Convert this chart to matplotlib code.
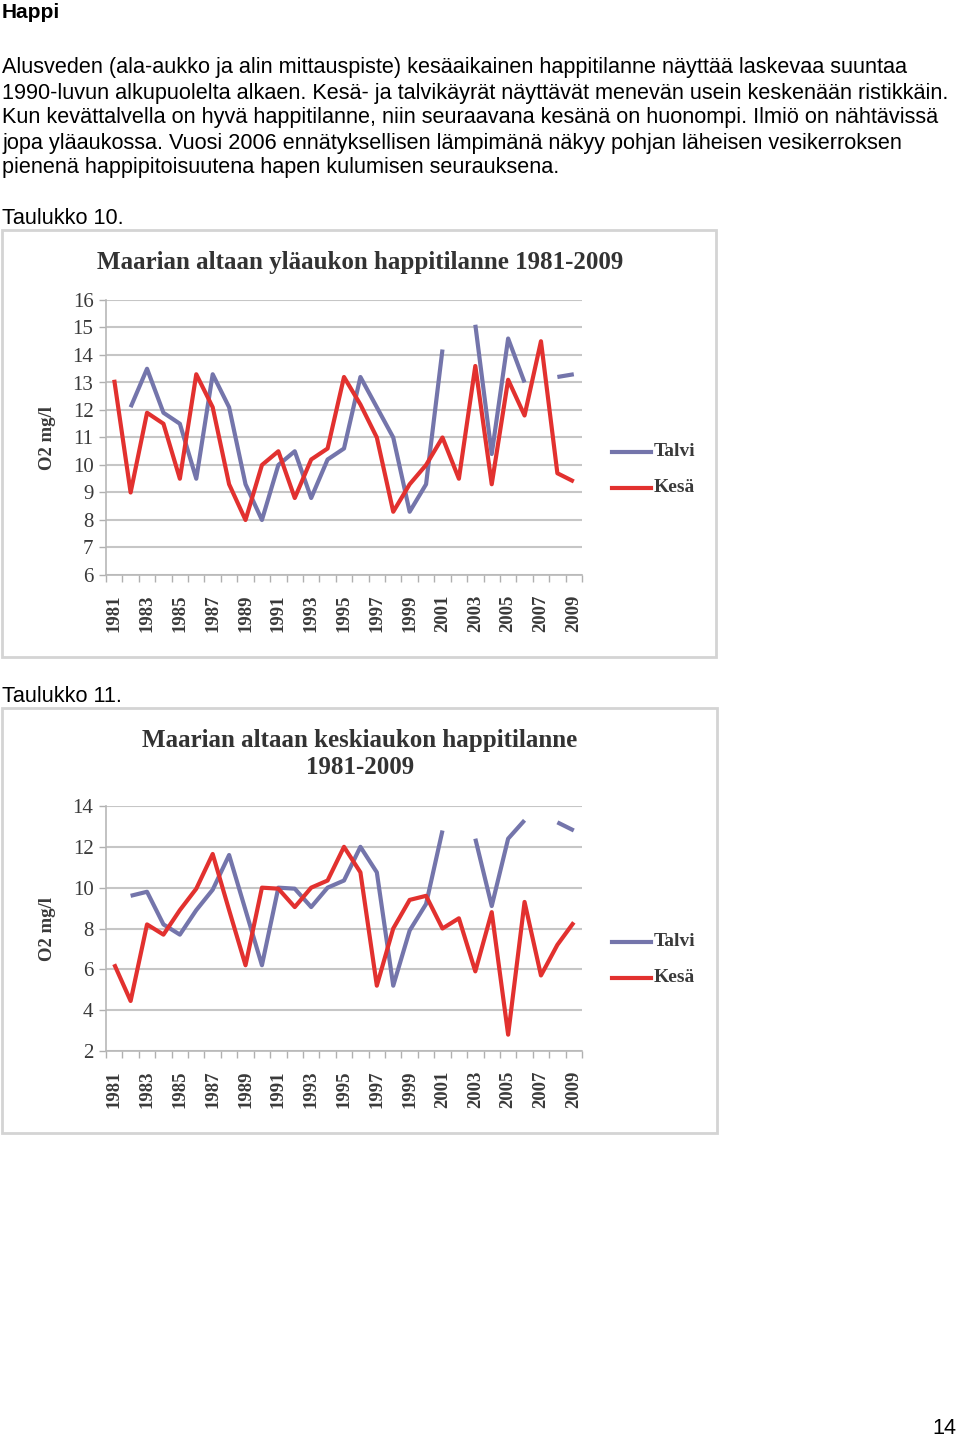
import matplotlib

matplotlib.use("Agg")
import matplotlib.pyplot as plt
import numpy as np
from matplotlib.patches import Rectangle

YEARS = list(range(1981, 2010))
nan = np.nan

YLA_TALVI = [nan, 12.1, 13.5, 11.9, 11.5, 9.5, 13.3, 12.1, 9.3, 8.0,
             10.0, 10.5, 8.8, 10.2, 10.6, 13.2, 12.1, 11.0, 8.3, 9.3,
             14.2, nan, 15.1, 10.4, 14.6, 13.0, nan, 13.2, 13.3]
YLA_KESA = [13.1, 9.0, 11.9, 11.5, 9.5, 13.3, 12.1, 9.3, 8.0, 10.0,
            10.5, 8.8, 10.2, 10.6, 13.2, 12.2, 11.0, 8.3, 9.3, 10.0,
            11.0, 9.5, 13.6, 9.3, 13.1, 11.8, 14.5, 9.7, 9.4]

KESKI_TALVI = [nan, 9.6, 9.8, 8.2, 7.7, 8.9, 9.9, 11.6, 8.9, 6.2,
               10.0, 9.95, 9.05, 10.0, 10.35, 12.0, 10.75, 5.2, 7.9, 9.2,
               12.8, nan, 12.4, 9.1, 12.4, 13.3, nan, 13.2, 12.8]
KESKI_KESA = [6.25, 4.45, 8.2, 7.7, 8.9, 9.95, 11.65, 8.9, 6.2, 10.0,
              9.95, 9.05, 10.0, 10.35, 12.0, 10.75, 5.2, 8.0, 9.4, 9.6,
              8.0, 8.5, 5.9, 8.8, 2.8, 9.3, 5.7, 7.2, 8.3]

YLA_TICKS = list(range(6, 17))
KESKI_TICKS = list(range(2, 15, 2))

BODY = [
    "Alusveden (ala-aukko ja alin mittauspiste) kesäaikainen happitilanne näyttää laskevaa suuntaa",
    "1990-luvun alkupuolelta alkaen. Kesä- ja talvikäyrät näyttävät menevän usein keskenään ristikkäin.",
    "Kun kevättalvella on hyvä happitilanne, niin seuraavana kesänä on huonompi. Ilmiö on nähtävissä",
    "jopa yläaukossa. Vuosi 2006 ennätyksellisen lämpimänä näkyy pohjan läheisen vesikerroksen",
    "pienenä happipitoisuutena hapen kulumisen seurauksena.",
]

BLUE = "#7475ab"
RED = "#e2312f"
INK = "#3a3a3a"
GRID = "#c6c6c6"
SERIF = "Liberation Serif"
SANS = "Liberation Sans"

W, H = 960, 1436
fig = plt.figure(figsize=(W / 100, H / 100), dpi=100)
fig.patch.set_facecolor("white")


def px(x, y):
    return x / W, 1 - y / H


def text(x, y, s, **kw):
    fx, fy = px(x, y)
    fig.text(fx, fy, s, **kw)


# page text
text(2, 12, "Happi", fontsize=15, fontweight="bold", family=SANS, va="center")
for i, line in enumerate(BODY):
    text(2, 68 + 25 * i, line, fontsize=15.6, family=SANS, va="center")
text(2, 218, "Taulukko 10.", fontsize=15.6, family=SANS, va="center")
text(2, 696, "Taulukko 11.", fontsize=15.6, family=SANS, va="center")
text(956, 1428, "14", fontsize=15.6, family=SANS, va="center", ha="right")


def chart(box, plot, titles, talvi, kesa, yticks, legend_y):
    bx0, by0, bx1, by1 = box
    fx, fy = px(bx0, by1)
    fig.patches.append(Rectangle((fx, fy), (bx1 - bx0) / W, (by1 - by0) / H,
                                 transform=fig.transFigure, fill=False,
                                 edgecolor="#d4d4d4", linewidth=2))
    x0, y0, x1, y1 = plot
    lx, ly = px(x0, y1)
    ax = fig.add_axes([lx, ly, (x1 - x0) / W, (y1 - y0) / H])
    ax.plot(YEARS, talvi, color=BLUE, linewidth=3, solid_capstyle="butt")
    ax.plot(YEARS, kesa, color=RED, linewidth=3, solid_capstyle="butt")
    ax.set_xlim(1980.5, 2009.5)
    ax.set_ylim(yticks[0], yticks[-1])
    ax.set_yticks(yticks)
    ax.set_yticklabels([str(t) for t in yticks], family=SERIF, fontsize=15,
                       color=INK)
    ax.yaxis.grid(True, color=GRID, linewidth=1.5)
    ax.set_axisbelow(True)
    ax.set_xticks(YEARS[::2])
    ax.set_xticklabels([str(y) for y in YEARS[::2]], rotation=90, family=SERIF,
                       fontsize=13.5, fontweight="bold", color=INK)
    ax.set_xticks(np.arange(1980.5, 2010, 1), minor=True)
    ax.tick_params(axis="x", which="major", length=0, pad=14)
    ax.tick_params(axis="x", which="minor", length=5, color="#b0b0b0", width=1)
    ax.tick_params(axis="y", length=5, color="#b0b0b0", width=1, pad=4)
    for side in ("top", "right"):
        ax.spines[side].set_visible(False)
    for side in ("left", "bottom"):
        ax.spines[side].set_color("#b8b8b8")
        ax.spines[side].set_linewidth(1.2)
    ax.set_ylabel("O2 mg/l", family=SERIF, fontsize=13.5, fontweight="bold",
                  color=INK, labelpad=12)

    for s, ty in titles:
        text(360, ty, s, family=SERIF, fontsize=18, fontweight="bold",
             color="#333333", ha="center", va="center")

    for (name, col), yy in zip([("Talvi", BLUE), ("Kesä", RED)], legend_y):
        a, b = px(612, yy)
        c, _ = px(651, yy)
        fig.add_artist(plt.Line2D([a, c], [b, b], color=col, linewidth=3,
                                  transform=fig.transFigure))
        text(654, yy, name, family=SERIF, fontsize=14, fontweight="bold",
             color=INK, va="center")
    return ax


chart((2, 230, 716, 657), (106, 300, 582, 575),
      [("Maarian altaan yläaukon happitilanne 1981-2009", 263)],
      YLA_TALVI, YLA_KESA, YLA_TICKS, (452, 488))
chart((2, 708, 717, 1133), (106, 806, 582, 1051),
      [("Maarian altaan keskiaukon happitilanne", 740), ("1981-2009", 768)],
      KESKI_TALVI, KESKI_KESA, KESKI_TICKS, (942, 978))

fig.savefig("out.png", dpi=100, facecolor="white")
